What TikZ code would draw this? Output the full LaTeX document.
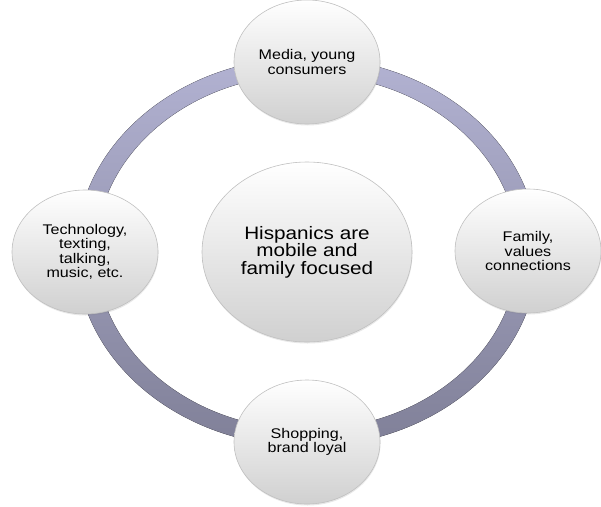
\documentclass[tikz,border=0pt]{standalone}
\usepackage{fontspec}
\newfontfamily\diagfont{Liberation Sans}[FakeStretch=1.15]
\usetikzlibrary{shapes.geometric}
\usetikzlibrary{shadows}
\definecolor{ringtop}{RGB}{178,178,210}
\definecolor{ringbot}{RGB}{128,128,152}
\definecolor{bubbleedge}{RGB}{192,192,192}
\definecolor{bubblebot}{RGB}{208,208,208}

\begin{document}
\begin{tikzpicture}[x=1pt, y=1pt,
  bubble/.style={ellipse, draw=bubbleedge, line width=0.6pt, top color=white, bottom color=bubblebot,
    inner sep=0pt, align=center, minimum width=146pt, minimum height=124pt,
    font=\diagfont\fontsize{14}{14.5}\selectfont,
    drop shadow={opacity=0.18, shadow xshift=0.5pt, shadow yshift=-1.5pt}},
  hub/.style={bubble, minimum width=210pt, minimum height=180pt, font=\diagfont\fontsize{18}{17.5}\selectfont}]
\useasboundingbox (0, 0) rectangle (601, -506);
\coordinate (core) at (307, -252);

\fill [even odd rule, top color=ringtop, bottom color=ringbot] (core) ellipse (231 and 194.5) (core) ellipse (211 and 177.5);
\draw [ringbot!70!black, line width=0.4pt, opacity=0.4] (core) ellipse (231 and 194.5) (core) ellipse (211 and 177.5);

\node (hispanics) at (core) [hub] {Hispanics are \\ mobile and \\ family focused};
\node (media) at (307, -62) [bubble] {Media, young \\ consumers};
\node (tech) at (85, -252) [bubble] {Technology, \\ texting, \\ talking, \\ music, etc.};
\node (family) at (528, -251) [bubble] {Family, \\ values \\ connections};
\node (shop) at (307, -442) [bubble] {Shopping, \\ brand loyal};

\end{tikzpicture}
\end{document}
